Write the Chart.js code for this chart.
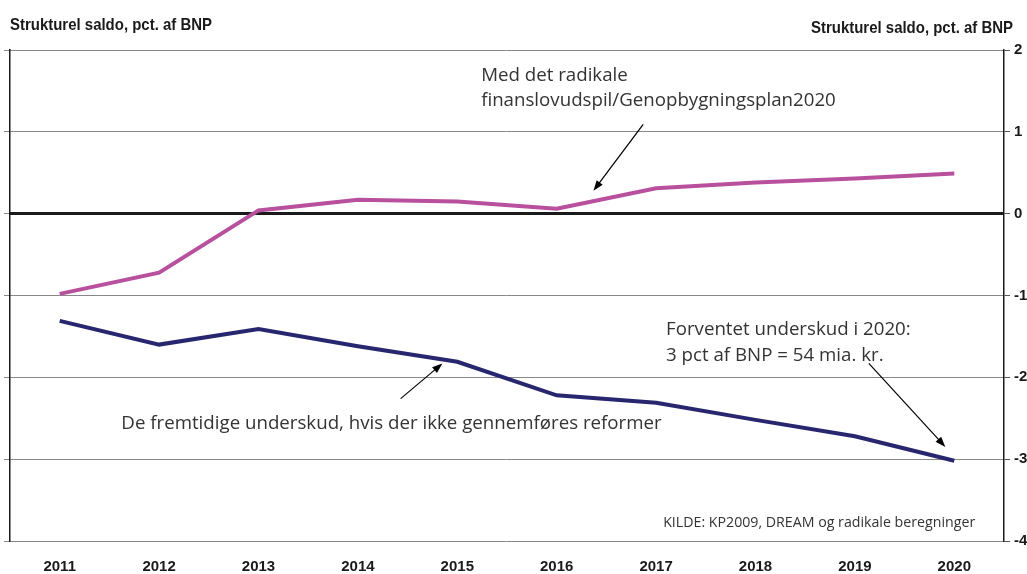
<!DOCTYPE html>
<html>
<head>
<meta charset="utf-8">
<script src="https://cdn.jsdelivr.net/npm/chart.js@4"></script>
<style>
  html, body { margin: 0; padding: 0; background: #fff; }
  #wrap { width: 1027px; height: 574px; position: relative; }
</style>
</head>
<body>
<div id="wrap"><canvas id="saldoChart"></canvas></div>
<script>
// Data
const years = ["2011", "2012", "2013", "2014", "2015", "2016", "2017", "2018", "2019", "2020"]
const radikale = [-0.98, -0.72, 0.04, 0.17, 0.15, 0.06, 0.31, 0.38, 0.43, 0.49]
const udenReformer = [-1.31, -1.6, -1.41, -1.62, -1.81, -2.22, -2.31, -2.52, -2.72, -3.02]
const yTicks = [2, 1, 0, -1, -2, -3, -4]

const axisTitle = "Strukturel saldo, pct. af BNP"

// Annotations placed in data units (category index, value)
const notes = [
  { lines: ["Med det radikale", "finanslovudspil/Genopbygningsplan2020"], x: 4.24, y: 1.69, step: 0.31, align: "left" },
  { lines: ["Forventet underskud i 2020:", "3 pct af BNP = 54 mia. kr."], x: 6.1, y: -1.42, step: 0.32, align: "left" },
  { lines: ["De fremtidige underskud, hvis der ikke gennemføres reformer"], x: 0.62, y: -2.57, step: 0, align: "left" },
]
const arrows = [
  { from: [5.87, 1.09], to: [5.37, 0.28] },
  { from: [3.43, -2.26], to: [3.85, -1.83] },
  { from: [8.14, -1.83], to: [8.91, -2.85] },
]
const source = { text: "KILDE: KP2009, DREAM og radikale beregninger", x: 9.21, y: -3.78 }

// Draw a condensed bold title (no narrow font installed, so squeeze it)
function drawTitle(ctx, text, x, y, align) {
  const squeeze = 0.88
  ctx.save()
  ctx.font = "bold 17px 'Liberation Sans', Arial, sans-serif"
  ctx.textBaseline = "middle"
  ctx.textAlign = align
  ctx.translate(x, y)
  ctx.scale(squeeze, 1)
  ctx.fillText(text, 0, 0)
  ctx.restore()
}

// Draw titles, notes and arrows on top of the chart
const annotationPlugin = {
  id: "annotations",
  afterDraw(chart) {
    const ctx = chart.ctx
    const xs = chart.scales.x
    const ys = chart.scales.y
    ctx.save()

    // axis titles
    ctx.fillStyle = "#1a1a1a"
    drawTitle(ctx, axisTitle, 10, 25, "left")
    drawTitle(ctx, axisTitle, 1013, 28, "right")

    // notes
    ctx.fillStyle = "#333"
    ctx.textBaseline = "middle"
    ctx.font = "18.7px 'Open Sans', sans-serif"
    notes.forEach((n) => {
      ctx.textAlign = n.align
      n.lines.forEach((line, i) => {
        ctx.fillText(line, xs.getPixelForValue(n.x), ys.getPixelForValue(n.y - i * n.step))
      })
    })

    ctx.font = "14.2px 'Open Sans', sans-serif"
    ctx.textAlign = "right"
    ctx.fillText(source.text, xs.getPixelForValue(source.x), ys.getPixelForValue(source.y))

    // arrows
    ctx.strokeStyle = "#000"
    ctx.fillStyle = "#000"
    ctx.lineWidth = 1.2
    arrows.forEach((a) => {
      const x1 = xs.getPixelForValue(a.from[0])
      const y1 = ys.getPixelForValue(a.from[1])
      const x2 = xs.getPixelForValue(a.to[0])
      const y2 = ys.getPixelForValue(a.to[1])
      const ang = Math.atan2(y2 - y1, x2 - x1)
      const head = 11
      ctx.beginPath()
      ctx.moveTo(x1, y1)
      ctx.lineTo(x2 - Math.cos(ang) * head * 0.8, y2 - Math.sin(ang) * head * 0.8)
      ctx.stroke()
      ctx.beginPath()
      ctx.moveTo(x2, y2)
      ctx.lineTo(x2 - head * Math.cos(ang - 0.35), y2 - head * Math.sin(ang - 0.35))
      ctx.lineTo(x2 - head * Math.cos(ang + 0.35), y2 - head * Math.sin(ang + 0.35))
      ctx.closePath()
      ctx.fill()
    })

    ctx.restore()
  },
}

const gridColor = (c) => (c.tick && c.tick.value === 0 ? "#1a1a1a" : "#888")
const gridWidth = (c) => (c.tick && c.tick.value === 0 ? 3 : 1)

new Chart(document.getElementById("saldoChart"), {
  type: "line",
  data: {
    labels: years,
    datasets: [
      {
        label: "Radikale",
        data: radikale,
        borderColor: "#b8509e",
        borderWidth: 4,
        pointRadius: 0,
        tension: 0,
      },
      {
        label: "Uden reformer",
        data: udenReformer,
        borderColor: "#27266f",
        borderWidth: 4,
        pointRadius: 0,
        tension: 0,
      },
    ],
  },
  options: {
    responsive: true,
    maintainAspectRatio: false,
    animation: false,
    layout: { padding: { top: 50, left: 0, right: 0, bottom: 0 } },
    plugins: {
      legend: { display: false },
      tooltip: { enabled: false },
    },
    scales: {
      x: {
        offset: true,
        grid: { display: false, drawTicks: false },
        border: { display: false },
        ticks: {
          color: "#1a1a1a",
          font: { family: "'Liberation Sans', Arial, sans-serif", size: 15, weight: "bold" },
          padding: 17,
          maxRotation: 0,
        },
        afterFit: (scale) => { scale.height = 33 },
      },
      y: {
        position: "right",
        min: -4,
        max: 2,
        afterBuildTicks: (scale) => { scale.ticks = yTicks.map((v) => ({ value: v })) },
        grid: { color: gridColor, lineWidth: gridWidth, tickLength: 6, tickColor: "#555", tickWidth: 1 },
        border: { display: true, color: "#1a1a1a", width: 1.5 },
        ticks: {
          color: "#1a1a1a",
          font: { family: "'Liberation Sans', Arial, sans-serif", size: 15, weight: "bold" },
          padding: 4,
        },
        afterFit: (scale) => { scale.width = 23 },
      },
      yLeft: {
        position: "left",
        min: -4,
        max: 2,
        afterBuildTicks: (scale) => { scale.ticks = yTicks.map((v) => ({ value: v })) },
        grid: { drawOnChartArea: false, tickLength: 6, color: "#888" },
        border: { display: true, color: "#1a1a1a", width: 1.5 },
        ticks: { display: false },
        afterFit: (scale) => { scale.width = 10 },
      },
    },
  },
  plugins: [annotationPlugin],
})
</script>
</body>
</html>
